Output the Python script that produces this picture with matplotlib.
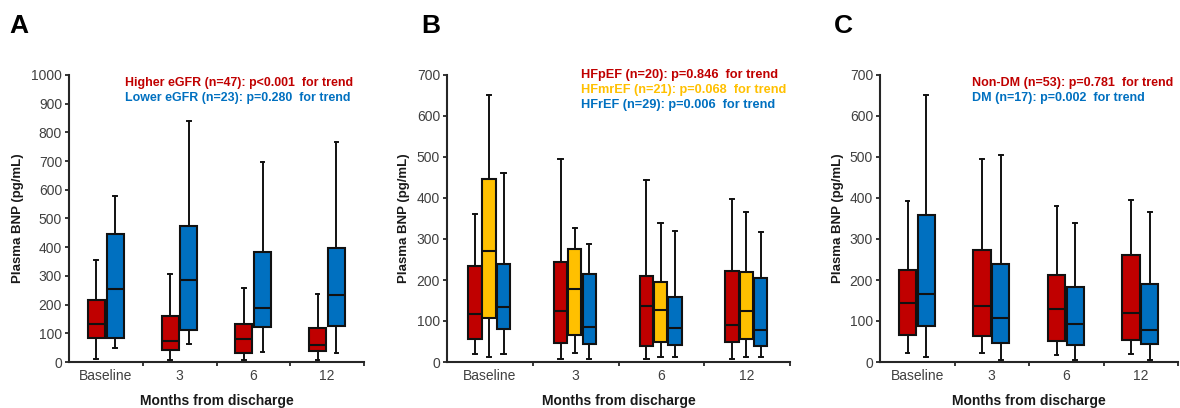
import matplotlib
matplotlib.use("Agg")
import matplotlib.pyplot as plt

plt.rcParams['font.family'] = ['Liberation Sans', 'DejaVu Sans']

RED = '#C00000'
BLUE = '#0070C0'
YELLOW = '#FFC000'

categories = ['Baseline', '3', '6', '12']

# Panel A: eGFR groups  (whislo, q1, med, q3, whishi)
a_higher_lo = [10, 6, 6, 6]
a_higher_q1 = [82, 41, 32, 37]
a_higher_med = [132, 74, 79, 60]
a_higher_q3 = [216, 161, 131, 117]
a_higher_hi = [357, 306, 257, 236]

a_lower_lo = [50, 64, 35, 33]
a_lower_q1 = [82, 113, 123, 125]
a_lower_med = [254, 285, 187, 232]
a_lower_q3 = [446, 475, 383, 397]
a_lower_hi = [578, 840, 697, 767]

# Panel B: HF types
b_hfpef_lo = [20, 7, 7, 7]
b_hfpef_q1 = [57, 46, 38, 49]
b_hfpef_med = [118, 124, 136, 91]
b_hfpef_q3 = [234, 243, 209, 222]
b_hfpef_hi = [361, 495, 444, 397]

b_hfmref_lo = [11, 22, 12, 12]
b_hfmref_q1 = [108, 65, 50, 55]
b_hfmref_med = [270, 179, 126, 125]
b_hfmref_q3 = [447, 275, 196, 220]
b_hfmref_hi = [652, 328, 340, 367]

b_hfref_lo = [20, 7, 12, 12]
b_hfref_q1 = [81, 45, 41, 39]
b_hfref_med = [133, 86, 84, 77]
b_hfref_q3 = [239, 214, 159, 204]
b_hfref_hi = [462, 289, 320, 317]

# Panel C: DM
c_nondm_lo = [23, 22, 17, 20]
c_nondm_q1 = [67, 63, 51, 53]
c_nondm_med = [145, 137, 130, 119]
c_nondm_q3 = [225, 274, 212, 260]
c_nondm_hi = [393, 495, 381, 396]

c_dm_lo = [11, 6, 6, 6]
c_dm_q1 = [87, 47, 42, 45]
c_dm_med = [165, 108, 93, 79]
c_dm_q3 = [359, 239, 184, 191]
c_dm_hi = [652, 505, 338, 367]

a_texts = ['Higher eGFR (n=47): p<0.001  for trend', 'Lower eGFR (n=23): p=0.280  for trend']
b_texts = ['HFpEF (n=20): p=0.846  for trend', 'HFmrEF (n=21): p=0.068  for trend',
           'HFrEF (n=29): p=0.006  for trend']
c_texts = ['Non-DM (n=53): p=0.781  for trend', 'DM (n=17): p=0.002  for trend']

W, H = 1180, 408
fig = plt.figure(figsize=(W / 100, H / 100), dpi=100)

def px_axes(x0, x1, y_top, y_bot):
    return fig.add_axes([x0 / W, 1 - y_bot / H, (x1 - x0) / W, (y_bot - y_top) / H])

SPINE = '#262626'
TICKC = '#404040'

def draw_panel(ax, series, offsets, width, ymax, ystep, letter, letter_x, ylabel_x):
    for (lo, q1, med, q3, hi, col), off in zip(series, offsets):
        stats = []
        for i in range(len(categories)):
            stats.append(dict(whislo=lo[i], q1=q1[i], med=med[i], q3=q3[i], whishi=hi[i], fliers=[]))
        pos = [i + off for i in range(len(categories))]
        ax.bxp(stats, positions=pos, widths=width, capwidths=0.05, showfliers=False,
               patch_artist=True,
               boxprops=dict(facecolor=col, edgecolor='#111111', linewidth=1.5),
               medianprops=dict(color='#111111', linewidth=1.5),
               whiskerprops=dict(color='#111111', linewidth=1.4),
               capprops=dict(color='#111111', linewidth=1.4),
               manage_ticks=False)
    ax.set_xlim(-0.5, 3.5)
    ax.set_ylim(0, ymax)
    ax.set_yticks(range(0, ymax + 1, ystep))
    ax.set_xticks(range(len(categories)))
    ax.set_xticklabels(categories)
    ax.set_xticks([0.5, 1.5, 2.5, 3.5], minor=True)
    ax.tick_params(axis='x', which='major', length=0, pad=5, labelsize=10, labelcolor=TICKC)
    ax.tick_params(axis='x', which='minor', length=3, width=1.3, color=SPINE, direction='out')
    ax.tick_params(axis='y', length=3, width=1.3, color=SPINE, labelsize=10, labelcolor=TICKC, pad=2)
    for s in ['top', 'right']:
        ax.spines[s].set_visible(False)
    for s in ['left', 'bottom']:
        ax.spines[s].set_color(SPINE)
        ax.spines[s].set_linewidth(1.5)
    ax.set_xlabel('Months from discharge', fontsize=10, fontweight='bold', color='#1a1a1a', labelpad=8)
    fig.text(ylabel_x / W, 1 - 218 / H, 'Plasma BNP (pg/mL)', rotation=90, fontsize=9.5,
             fontweight='bold', color='#1a1a1a', ha='center', va='center')
    fig.text(letter_x / W, 1 - 26 / H, letter, fontsize=19, fontweight='bold', ha='center', va='center')

def annotate(texts, colors, x, y0, dy, size):
    for k, (t, c) in enumerate(zip(texts, colors)):
        fig.text(x / W, 1 - (y0 + k * dy) / H, t, color=c, fontsize=size, fontweight='bold',
                 ha='left', va='center')

axA = px_axes(69, 364, 75, 362)
draw_panel(axA,
           [(a_higher_lo, a_higher_q1, a_higher_med, a_higher_q3, a_higher_hi, RED),
            (a_lower_lo, a_lower_q1, a_lower_med, a_lower_q3, a_lower_hi, BLUE)],
           [-0.13, 0.125], 0.23, 1000, 100, 'A', 19, 18)
annotate(a_texts, [RED, BLUE], 125, 83, 14.5, 8.9)

axB = px_axes(447, 790, 75, 362)
draw_panel(axB,
           [(b_hfpef_lo, b_hfpef_q1, b_hfpef_med, b_hfpef_q3, b_hfpef_hi, RED),
            (b_hfmref_lo, b_hfmref_q1, b_hfmref_med, b_hfmref_q3, b_hfmref_hi, YELLOW),
            (b_hfref_lo, b_hfref_q1, b_hfref_med, b_hfref_q3, b_hfref_hi, BLUE)],
           [-0.175, -0.01, 0.16], 0.155, 700, 100, 'B', 431, 404)
annotate(b_texts, [RED, YELLOW, BLUE], 581, 75, 15, 9.2)

axC = px_axes(880, 1178, 75, 362)
draw_panel(axC,
           [(c_nondm_lo, c_nondm_q1, c_nondm_med, c_nondm_q3, c_nondm_hi, RED),
            (c_dm_lo, c_dm_q1, c_dm_med, c_dm_q3, c_dm_hi, BLUE)],
           [-0.13, 0.12], 0.23, 700, 100, 'C', 843, 838)
annotate(c_texts, [RED, BLUE], 972, 83, 14.5, 9.0)

fig.savefig('out.png', dpi=100)
